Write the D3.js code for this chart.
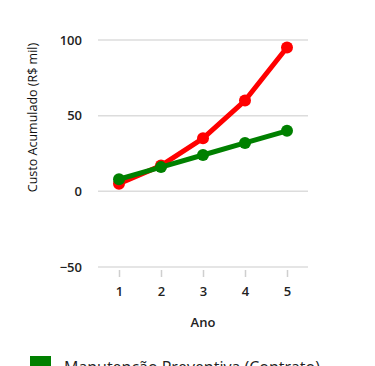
<!DOCTYPE html>
<html>
<head>
<meta charset="utf-8">
<script src="https://cdn.jsdelivr.net/npm/d3@7"></script>
<style>
  body { margin: 0; background: #fff; }
  svg { display: block; font-family: "Open Sans", "Noto Sans", sans-serif; }
</style>
</head>
<body>
<svg id="chart" width="375" height="366"></svg>
<script>
const years = [1, 2, 3, 4, 5];
const corretiva = [5, 17, 35, 60, 95];
const preventiva = [8, 16, 24, 32, 40];
const yTicks = [-50, 0, 50, 100];

const svg = d3.select("#chart");

const x = d3.scaleLinear().domain([0.5, 5.5]).range([98, 308]);
const y = d3.scaleLinear().domain([-50, 100]).range([267, 40]);

// grid
svg.append("g")
    .selectAll("line")
    .data(yTicks)
    .join("line")
    .attr("x1", 98)
    .attr("x2", 308)
    .attr("y1", d => y(d))
    .attr("y2", d => y(d))
    .attr("stroke", "#dcdcdc")
    .attr("stroke-width", 1.5);

// y tick labels
svg.append("g")
    .selectAll("text")
    .data(yTicks)
    .join("text")
    .attr("x", 82)
    .attr("y", d => y(d))
    .attr("dy", "0.35em")
    .attr("text-anchor", "end")
    .attr("font-size", 13)
    .attr("font-weight", 600)
    .attr("fill", "#222")
    .text(d => d < 0 ? "\u2212" + Math.abs(d) : d);

// x axis
const xAxis = svg.append("g")
    .attr("transform", "translate(0,270)")
    .call(d3.axisBottom(x).tickValues(years).tickSize(7).tickPadding(10).tickFormat(d3.format("d")));
xAxis.select(".domain").remove();
xAxis.selectAll(".tick line").attr("stroke", "#cfcfcf").attr("stroke-width", 1.5);
xAxis.selectAll(".tick text")
    .attr("font-size", 13)
    .attr("font-weight", 600)
    .attr("font-family", "'Open Sans', sans-serif")
    .attr("fill", "#222");

svg.append("text")
    .attr("x", x(3))
    .attr("y", 327)
    .attr("text-anchor", "middle")
    .attr("font-size", 13)
    .attr("font-weight", 600)
    .attr("fill", "#222")
    .text("Ano");

svg.append("text")
    .attr("transform", `translate(37,${(40 + 195) / 2}) rotate(-90)`)
    .attr("text-anchor", "middle")
    .attr("font-size", 12.5)
    .attr("fill", "#111")
    .text("Custo Acumulado (R$ mil)");

const line = d3.line()
    .x((d, i) => x(years[i]))
    .y(d => y(d));

function drawSeries(values, color) {
    svg.append("path")
        .datum(values)
        .attr("d", line)
        .attr("fill", "none")
        .attr("stroke", color)
        .attr("stroke-width", 5)
        .attr("stroke-linejoin", "round");
    svg.append("g")
        .selectAll("circle")
        .data(values)
        .join("circle")
        .attr("cx", (d, i) => x(years[i]))
        .attr("cy", d => y(d))
        .attr("r", 6)
        .attr("fill", color);
}

drawSeries(corretiva, "#ff0000");
drawSeries(preventiva, "#008000");

// legend
svg.append("rect")
    .attr("x", 30)
    .attr("y", 356)
    .attr("width", 21)
    .attr("height", 21)
    .attr("fill", "#008000");

svg.append("text")
    .attr("x", 64)
    .attr("y", 373)
    .attr("font-size", 16)
    .attr("fill", "#222")
    .text("Manutenção Preventiva (Contrato)");
</script>
</body>
</html>
